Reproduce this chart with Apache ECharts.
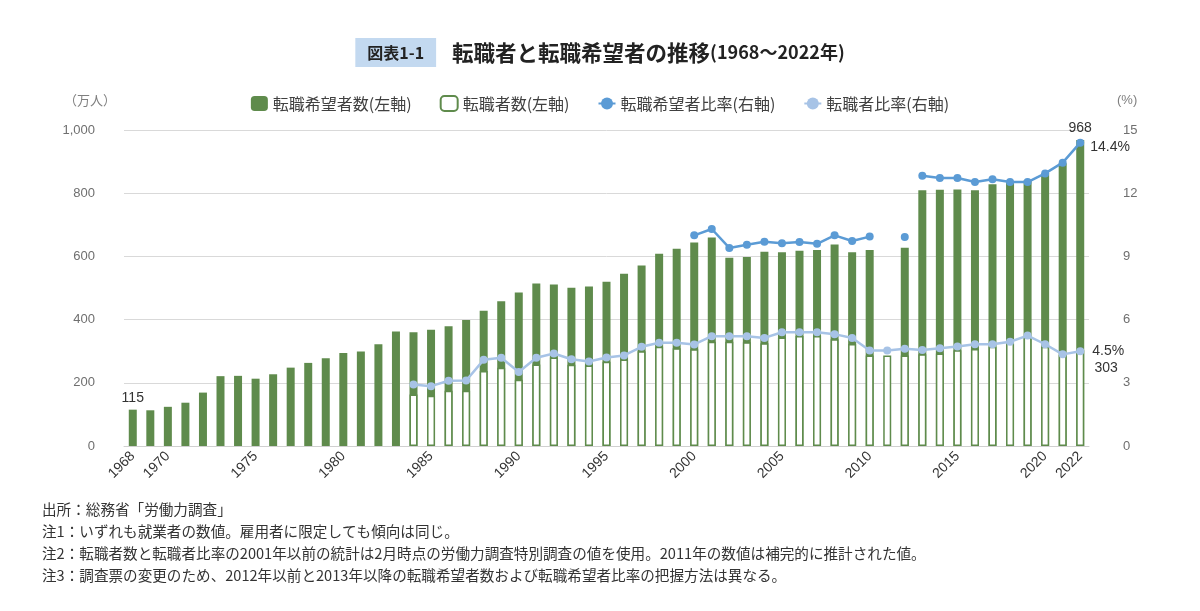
<!DOCTYPE html>
<html>
<head>
<meta charset="utf-8">
<title>転職者と転職希望者の推移</title>
<script src="https://cdn.jsdelivr.net/npm/echarts@6/dist/echarts.min.js"></script>
<style>
  html, body { margin: 0; padding: 0; background: #fff; }
  #chart { width: 1200px; height: 611px; }
</style>
</head>
<body>
<div id="chart"></div>
<script>
// 転職者と転職希望者の推移（1968〜2022年）

const years = [];
for (let y = 1968; y <= 2022; y++) years.push(String(y));

// 転職希望者数（万人）1968-2022、2011年は欠測
const hopeCount = [
  115, 113, 124, 137, 169, 221, 222, 213, 227, 248,
  263, 278, 294, 299, 322, 362, 360, 368, 379, 399,
  428, 458, 486, 514, 511, 501, 505, 520, 545, 571,
  608, 624, 644, 660, 596, 598, 615, 613, 618, 620,
  638, 613, 620, null, 627, 809, 811, 812, 809, 828,
  836, 840, 863, 895, 968
];

// 転職者数（万人）1984年から
const jobChangeCount = [
  null, null, null, null, null, null, null, null, null, null,
  null, null, null, null, null, null, 163, 159, 175, 175,
  237, 248, 210, 258, 280, 257, 255, 267, 274, 300,
  314, 309, 306, 330, 330, 328, 325, 343, 348, 348,
  338, 323, 286, 286, 286, 290, 293, 303, 307, 314,
  324, 345, 314, 288, 303
];

// 転職希望者比率（%）2000-2012 / 2013-2022 は調査票が違うので線を分ける
const hopeRateOld = [
  null, null, null, null, null, null, null, null, null, null,
  null, null, null, null, null, null, null, null, null, null,
  null, null, null, null, null, null, null, null, null, null,
  null, null, 10.0, 10.3, 9.4, 9.55, 9.7, 9.62, 9.68, 9.6,
  10.0, 9.73, 9.94, null, 9.92, null, null, null, null, null,
  null, null, null, null, null
];
const hopeRateNew = [
  null, null, null, null, null, null, null, null, null, null,
  null, null, null, null, null, null, null, null, null, null,
  null, null, null, null, null, null, null, null, null, null,
  null, null, null, null, null, null, null, null, null, null,
  null, null, null, null, null, 12.83, 12.72, 12.72, 12.53, 12.66,
  12.53, 12.53, 12.94, 13.45, 14.4
];

// 転職者比率（%）1984年から
const jobChangeRate = [
  null, null, null, null, null, null, null, null, null, null,
  null, null, null, null, null, null, 2.92, 2.84, 3.1, 3.11,
  4.09, 4.19, 3.51, 4.19, 4.39, 4.12, 4.01, 4.2, 4.3, 4.71,
  4.9, 4.9, 4.82, 5.21, 5.21, 5.21, 5.13, 5.4, 5.4, 5.4,
  5.31, 5.13, 4.53, 4.53, 4.62, 4.56, 4.64, 4.72, 4.83, 4.83,
  4.95, 5.24, 4.83, 4.35, 4.5
];

const leftTicks = [0, 200, 400, 600, 800, 1000];
const rightTicks = [0, 3, 6, 9, 12, 15];

const notes = [
  '出所：総務省「労働力調査」',
  '注1：いずれも就業者の数値。雇用者に限定しても傾向は同じ。',
  '注2：転職者数と転職者比率の2001年以前の統計は2月時点の労働力調査特別調査の値を使用。2011年の数値は補完的に推計された値。',
  '注3：調査票の変更のため、2012年以前と2013年以降の転職希望者数および転職希望者比率の把握方法は異なる。'
];

const GREEN = '#5f8b4c';
const DARK_BLUE = '#5b9bd5';
const LIGHT_BLUE = '#a7c3e6';
const JP = '"Noto Sans CJK JP", sans-serif';
const NUM = '"Liberation Sans", Arial, sans-serif';
const last = years.length - 1;

/* 端の値だけラベルを出す */
function withLabels(arr, idxs, label) {
  return arr.map((v, i) => (idxs.indexOf(i) >= 0 && v != null) ? { value: v, label: Object.assign({ show: true }, label) } : v);
}

const chart = echarts.init(document.getElementById('chart'));

const lblStyle = { color: '#333', fontSize: 14, fontFamily: NUM };

const option = {
  animation: false,
  textStyle: { fontFamily: JP },
  title: {
    left: 'center',
    top: 33,
    text: '{box|図表1-1}{gap| }{main|転職者と転職希望者の推移}{sub|(1968〜2022年)}',
    textStyle: {
      rich: {
        box: { backgroundColor: '#c3d9f0', color: '#222', fontSize: 16, fontWeight: 'bold', padding: [7, 12, 6, 12], fontFamily: JP },
        gap: { width: 16 },
        main: { color: '#222', fontSize: 21.5, fontWeight: 'bold', fontFamily: JP },
        sub: { color: '#222', fontSize: 18, fontWeight: 'bold', fontFamily: JP }
      }
    }
  },
  legend: {
    top: 90,
    left: 'center',
    itemGap: 28,
    itemWidth: 17,
    itemHeight: 15,
    textStyle: { fontSize: 16, color: '#404040', fontFamily: JP },
    data: ['転職希望者数(左軸)', '転職者数(左軸)', '転職希望者比率(右軸)', '転職者比率(右軸)']
  },
  grid: { left: 124, right: 111, top: 130, bottom: 165 },
  xAxis: {
    type: 'category',
    data: years,
    axisTick: { show: false },
    axisLine: { lineStyle: { color: '#d0d0d0' } },
    axisLabel: {
      rotate: 45,
      margin: 8,
      fontSize: 14,
      color: '#333',
      fontFamily: NUM,
      interval: (i, v) => v === '1968' || v === '2022' || Number(v) % 5 === 0
    }
  },
  yAxis: [
    {
      type: 'value',
      min: leftTicks[0],
      max: leftTicks[leftTicks.length - 1],
      interval: leftTicks[1] - leftTicks[0],
      axisLine: { show: false },
      axisTick: { show: false },
      splitLine: { lineStyle: { color: '#d9d9d9' } },
      axisLabel: {
        margin: 29, fontSize: 13, color: '#6f6f6f', fontFamily: NUM,
        formatter: v => v.toLocaleString('en-US')
      }
    },
    {
      type: 'value',
      min: rightTicks[0],
      max: rightTicks[rightTicks.length - 1],
      interval: rightTicks[1] - rightTicks[0],
      axisLine: { show: false },
      axisTick: { show: false },
      splitLine: { show: false },
      axisLabel: { margin: 34, fontSize: 13, color: '#6f6f6f', fontFamily: NUM }
    }
  ],
  graphic: [
    { type: 'text', left: 64, top: 94, style: { text: '（万人）', fontSize: 13, fill: '#7f7f7f', fontFamily: JP } },
    { type: 'text', left: 1117, top: 94, style: { text: '(%)', fontSize: 13, fill: '#7f7f7f', fontFamily: NUM } }
  ].concat(notes.map((t, i) => ({
    type: 'text', left: 42, top: 502 + i * 22,
    style: { text: t, fontSize: 14.6, fill: '#333', fontFamily: JP }
  }))),
  series: [
    {
      name: '転職希望者数(左軸)',
      type: 'bar',
      barWidth: 8,
      barGap: '-100%',
      itemStyle: { color: GREEN },
      data: withLabels(hopeCount, [0, last], Object.assign({ position: 'top', distance: 5 }, lblStyle))
    },
    {
      name: '転職者数(左軸)',
      type: 'bar',
      barWidth: 8,
      barGap: '-100%',
      itemStyle: { color: '#fff', borderColor: GREEN, borderWidth: 1.5 },
      data: withLabels(jobChangeCount, [last], Object.assign({ position: 'top', offset: [26, 30] }, lblStyle))
    },
    {
      name: '転職希望者比率(右軸)',
      type: 'line',
      yAxisIndex: 1,
      symbol: 'circle',
      symbolSize: 8,
      connectNulls: false,
      lineStyle: { color: DARK_BLUE, width: 2.5 },
      itemStyle: { color: DARK_BLUE },
      data: hopeRateOld
    },
    {
      name: '転職希望者比率(右軸)',
      type: 'line',
      yAxisIndex: 1,
      symbol: 'circle',
      symbolSize: 8,
      lineStyle: { color: DARK_BLUE, width: 2.5 },
      itemStyle: { color: DARK_BLUE },
      data: withLabels(hopeRateNew, [last], Object.assign({ position: 'right', distance: 6, offset: [0, 5], formatter: p => p.value.toFixed(1) + '%' }, lblStyle))
    },
    {
      name: '転職者比率(右軸)',
      type: 'line',
      yAxisIndex: 1,
      symbol: 'circle',
      symbolSize: 8,
      lineStyle: { color: LIGHT_BLUE, width: 2.5 },
      itemStyle: { color: LIGHT_BLUE },
      data: withLabels(jobChangeRate, [last], Object.assign({ position: 'right', distance: 8, formatter: p => p.value.toFixed(1) + '%' }, lblStyle))
    }
  ]
};

chart.setOption(option);
</script>
</body>
</html>
